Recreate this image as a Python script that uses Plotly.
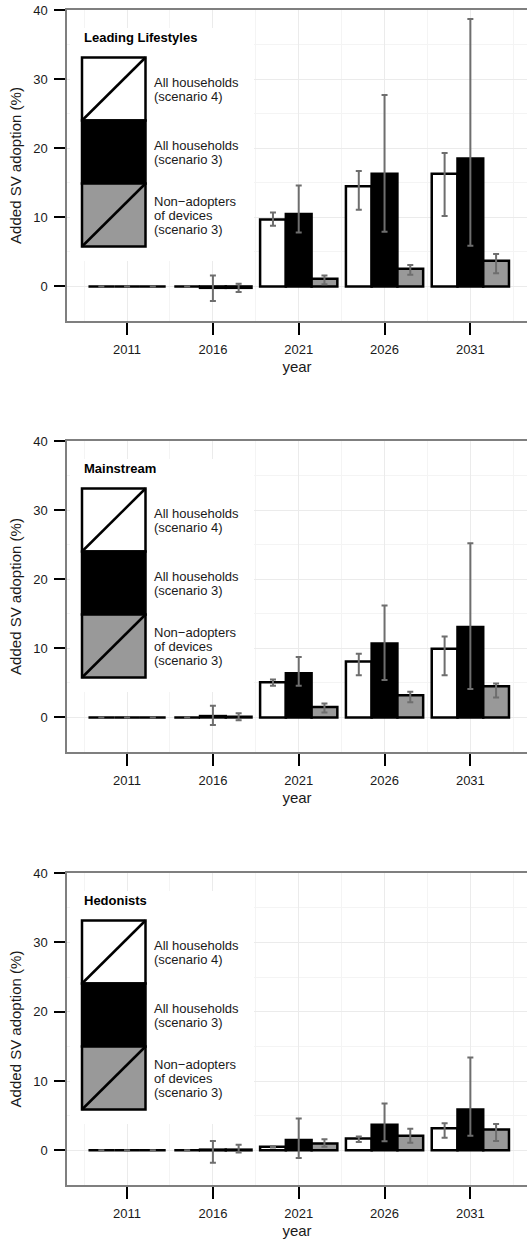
import plotly.graph_objects as go
from plotly.subplots import make_subplots

years = ["2011", "2016", "2021", "2026", "2031"]
panel_titles = ["Leading Lifestyles", "Mainstream", "Hedonists"]
series_names = ["All households (scenario 4)", "All households (scenario 3)",
                "Non-adopters of devices (scenario 3)"]
series_labels = [["All households", "(scenario 4)"],
                 ["All households", "(scenario 3)"],
                 ["Non\u2212adopters", "of devices", "(scenario 3)"]]
series_fill = ["white", "black", "#999999"]

# Leading Lifestyles
ll_s4 = [0, 0, 9.7, 14.5, 16.3]
ll_s4_hi = [0, 0, 10.7, 16.7, 19.3]
ll_s4_lo = [0, 0, 8.8, 11.1, 10.2]
ll_s3 = [0, -0.2, 10.5, 16.3, 18.5]
ll_s3_hi = [0, 1.6, 14.6, 27.7, 38.7]
ll_s3_lo = [0, -2.1, 7.8, 7.9, 5.9]
ll_na = [0, -0.2, 1.1, 2.55, 3.7]
ll_na_hi = [0, 0.4, 1.6, 3.1, 4.7]
ll_na_lo = [0, -0.8, 0.3, 1.7, 1.9]

# Mainstream
ms_s4 = [0, 0, 5.1, 8.1, 9.95]
ms_s4_hi = [0, 0, 5.5, 9.2, 11.7]
ms_s4_lo = [0, 0, 4.6, 6.1, 6.1]
ms_s3 = [0, 0.2, 6.4, 10.7, 13.1]
ms_s3_hi = [0, 1.7, 8.75, 16.2, 25.2]
ms_s3_lo = [0, -1.1, 4.6, 5.4, 4.1]
ms_na = [0, 0.1, 1.5, 3.2, 4.5]
ms_na_hi = [0, 0.6, 2.0, 3.7, 4.9]
ms_na_lo = [0, -0.4, 0.7, 2.2, 2.9]

# Hedonists
he_s4 = [0, 0, 0.5, 1.7, 3.2]
he_s4_hi = [0, 0, 0.6, 2.0, 3.9]
he_s4_lo = [0, 0, 0.4, 1.2, 1.8]
he_s3 = [0, 0.1, 1.5, 3.7, 5.9]
he_s3_hi = [0, 1.35, 4.6, 6.75, 13.4]
he_s3_lo = [0, -1.8, -1.1, 1.3, 2.1]
he_na = [0, 0.1, 1.0, 2.1, 3.0]
he_na_hi = [0, 0.8, 1.6, 3.1, 3.8]
he_na_lo = [0, -0.3, 0.5, 1.1, 1.35]

panels = [
    [(ll_s4, ll_s4_lo, ll_s4_hi), (ll_s3, ll_s3_lo, ll_s3_hi), (ll_na, ll_na_lo, ll_na_hi)],
    [(ms_s4, ms_s4_lo, ms_s4_hi), (ms_s3, ms_s3_lo, ms_s3_hi), (ms_na, ms_na_lo, ms_na_hi)],
    [(he_s4, he_s4_lo, he_s4_hi), (he_s3, he_s3_lo, he_s3_hi), (he_na, he_na_lo, he_na_hi)],
]

W, H = 527, 1242
L, R, T, B = 67, 0, 10, 57
plot_w = W - L - R
plot_h = H - T - B
# panel tops / bottoms in pixels
panel_px = [(10, 321), (441, 752), (873, 1185)]

FONT = "Liberation Sans, Arial, sans-serif"
TXT = "#1a1a1a"

fig = make_subplots(rows=3, cols=1)
x_pos = list(range(len(years)))

for p, series in enumerate(panels):
    for k, (vals, lo, hi) in enumerate(series):
        fig.add_trace(go.Bar(
            x=x_pos, y=vals, name=series_names[k], showlegend=False,
            marker=dict(color=series_fill[k], line=dict(color="black", width=2.5)),
            error_y=dict(type="data", symmetric=False,
                         array=[h - v for h, v in zip(hi, vals)],
                         arrayminus=[v - l for v, l in zip(vals, lo)],
                         color="#6e6e6e", thickness=2, width=3),
        ), p + 1, 1)

fig.update_layout(
    width=W, height=H, margin=dict(l=L, r=R, t=T, b=B, autoexpand=False),
    barmode="group", bargap=0.1, bargroupgap=0,
    plot_bgcolor="white", paper_bgcolor="white",
    font=dict(family=FONT, color=TXT, size=13),
)

shapes = []
annotations = []
for p in range(3):
    top, bot = panel_px[p]
    d0 = (H - B - bot) / plot_h
    d1 = (H - B - top) / plot_h
    fig.update_yaxes(domain=[d0, d1], range=[-5, 40], tickvals=[0, 10, 20, 30, 40],
                     automargin=False,
                     ticks="outside", ticklen=11, tickwidth=2, tickcolor="black",
                     ticklabelstandoff=4,
                     showline=True, mirror=True, linecolor="#7f7f7f", linewidth=1.5,
                     showgrid=True, gridcolor="#ebebeb", gridwidth=1,
                     minor=dict(dtick=5, tick0=0, showgrid=True, gridcolor="#f4f4f4", gridwidth=1),
                     zeroline=False, tickfont=dict(size=13, color=TXT),
                     title=dict(text="Added SV adoption (%)", font=dict(size=15), standoff=8),
                     row=p + 1, col=1)
    fig.update_xaxes(range=[-0.7, 4.66], tickvals=x_pos, ticktext=years,
                     automargin=False,
                     ticks="outside", ticklen=12, tickwidth=2, tickcolor="black",
                     ticklabelstandoff=4,
                     showline=True, mirror=True, linecolor="#7f7f7f", linewidth=1.5,
                     showgrid=True, gridcolor="#ebebeb", gridwidth=1,
                     minor=dict(dtick=1, tick0=-0.5, showgrid=True, gridcolor="#f4f4f4", gridwidth=1),
                     zeroline=False, tickfont=dict(size=13, color=TXT),
                     title=dict(text="year", font=dict(size=15), standoff=5),
                     row=p + 1, col=1)

    sfx = "" if p == 0 else str(p + 1)
    xr, yr = f"x{sfx} domain", f"y{sfx} domain"
    ph = bot - top

    def fx(px):
        return (px - L) / plot_w

    def fy(off):
        return 1 - off / ph

    # legend background (drawn first so the keys sit on top of it)
    shapes.append(dict(type="rect", xref=xr, yref=yr, x0=fx(70), x1=fx(254),
                       y0=fy(251), y1=fy(18), fillcolor="white", line=dict(width=0),
                       layer="above"))
    annotations.append(dict(xref=xr, yref=yr, x=fx(82), y=fy(27.5), text=f"<b>{panel_titles[p]}</b>",
                            showarrow=False, xanchor="left", yanchor="middle",
                            font=dict(size=13, color="black")))
    key_top = 47.5
    key_h = 63
    for k in range(3):
        y_a = key_top + k * key_h
        y_b = y_a + key_h
        shapes.append(dict(type="rect", xref=xr, yref=yr, x0=fx(82), x1=fx(145.5),
                           y0=fy(y_b), y1=fy(y_a), fillcolor=series_fill[k],
                           line=dict(color="black", width=2.5), layer="above"))
        if k != 1:
            shapes.append(dict(type="line", xref=xr, yref=yr, x0=fx(82), x1=fx(145.5),
                               y0=fy(y_b), y1=fy(y_a), line=dict(color="black", width=2.5),
                               layer="above"))
        lines = series_labels[k]
        c = (y_a + y_b) / 2
        n = len(lines)
        for j, t in enumerate(lines):
            off = c + (j - (n - 1) / 2) * 14
            annotations.append(dict(xref=xr, yref=yr, x=fx(152), y=fy(off), text=t,
                                    showarrow=False, xanchor="left", yanchor="middle",
                                    font=dict(size=13, color=TXT)))

fig.update_layout(shapes=shapes, annotations=annotations)
# drop the browser's default page margin so the figure sits at the window origin
fig.write_html("out.html", config={"displayModeBar": False},
               post_script="document.body.style.margin = '0px';")
